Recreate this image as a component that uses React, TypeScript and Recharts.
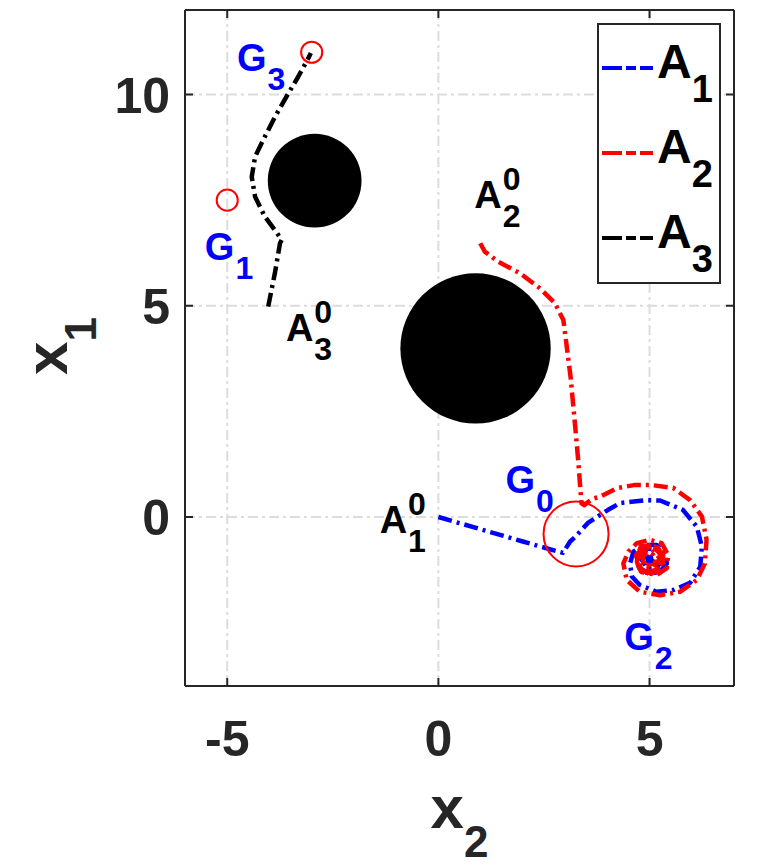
import { ComposedChart, Line, Scatter, XAxis, YAxis, CartesianGrid, Legend } from "recharts"

const FONT = "'Liberation Sans', Arial, Helvetica, sans-serif"
const AXIS = "#262626"
const DASH = "14 5 3 5"

const xTicks = [-5, 0, 5]
const yTicks = [0, 5, 10]

const seriesNames = ["A1", "A2", "A3"]
const seriesColors = ["#0000ff", "#ff0000", "#000000"]

// agent 1: from origin, kink near G0, then spiral into G2
const a1Path = [
  { x: 0, y: 0 }, { x: 1.0, y: -0.29 }, { x: 2.0, y: -0.58 }, { x: 2.95, y: -0.85 },
  { x: 3.12, y: -0.58 }, { x: 3.24, y: -0.47 }, { x: 3.54, y: -0.14 }, { x: 4.02, y: 0.17 },
  { x: 4.3, y: 0.33 }, { x: 4.93, y: 0.4 }, { x: 5.25, y: 0.39 }, { x: 5.79, y: 0.17 },
  { x: 6.12, y: -0.23 }, { x: 6.24, y: -0.7 }, { x: 6.2, y: -1.18 }, { x: 5.96, y: -1.56 },
  { x: 5.56, y: -1.73 }, { x: 5.17, y: -1.77 }, { x: 4.77, y: -1.61 }, { x: 4.58, y: -1.41 },
  { x: 4.54, y: -1.1 }, { x: 4.62, y: -0.82 }, { x: 4.85, y: -0.66 }, { x: 5.17, y: -0.66 },
  { x: 5.37, y: -0.86 }, { x: 5.41, y: -1.1 }, { x: 5.25, y: -1.29 }, { x: 5.0, y: -1.35 },
  { x: 4.75, y: -1.2 }, { x: 4.7, y: -0.95 }, { x: 4.88, y: -0.75 }, { x: 5.15, y: -0.75 },
  { x: 5.3, y: -0.98 }, { x: 5.18, y: -1.2 }, { x: 4.95, y: -1.22 }, { x: 4.82, y: -1.02 },
  { x: 4.95, y: -0.85 }, { x: 5.12, y: -0.92 }, { x: 5.08, y: -1.05 }, { x: 5.0, y: -1.0 },
]

// agent 2: around the big obstacle, down to G0, then loops around G2
const a2Path = [
  { x: 0.99, y: 6.48 }, { x: 1.1, y: 6.28 }, { x: 1.42, y: 6.04 }, { x: 1.93, y: 5.77 },
  { x: 2.41, y: 5.41 }, { x: 2.76, y: 5.06 }, { x: 2.96, y: 4.66 }, { x: 3.04, y: 4.03 },
  { x: 3.13, y: 3.32 }, { x: 3.24, y: 2.14 }, { x: 3.31, y: 1.35 }, { x: 3.37, y: 0.56 },
  { x: 3.39, y: 0.32 }, { x: 3.45, y: 0.28 }, { x: 3.64, y: 0.43 }, { x: 3.83, y: 0.48 },
  { x: 4.22, y: 0.68 }, { x: 4.66, y: 0.76 }, { x: 5.01, y: 0.76 }, { x: 5.56, y: 0.69 },
  { x: 5.96, y: 0.4 }, { x: 6.24, y: 0.01 }, { x: 6.35, y: -0.54 }, { x: 6.31, y: -1.1 },
  { x: 6.12, y: -1.49 }, { x: 5.72, y: -1.77 }, { x: 5.25, y: -1.85 }, { x: 4.77, y: -1.77 },
  { x: 4.46, y: -1.49 }, { x: 4.38, y: -1.1 }, { x: 4.5, y: -0.82 }, { x: 4.7, y: -0.62 },
  { x: 5.01, y: -0.54 }, { x: 5.29, y: -0.62 }, { x: 5.44, y: -0.9 }, { x: 5.41, y: -1.21 },
  { x: 5.17, y: -1.37 }, { x: 4.8, y: -1.3 }, { x: 4.66, y: -0.98 }, { x: 4.8, y: -0.7 },
  { x: 5.08, y: -0.66 }, { x: 5.32, y: -0.86 }, { x: 5.32, y: -1.16 }, { x: 5.05, y: -1.34 },
  { x: 4.74, y: -1.22 }, { x: 4.68, y: -0.9 }, { x: 4.9, y: -0.68 }, { x: 5.2, y: -0.72 },
  { x: 5.34, y: -1.0 }, { x: 5.15, y: -1.3 }, { x: 4.86, y: -1.32 }, { x: 4.7, y: -1.05 },
  { x: 4.82, y: -0.76 }, { x: 5.12, y: -0.7 }, { x: 5.3, y: -0.95 }, { x: 5.22, y: -1.24 },
  { x: 4.95, y: -1.3 }, { x: 4.76, y: -1.12 }, { x: 4.8, y: -0.84 }, { x: 5.06, y: -0.76 },
  { x: 5.24, y: -0.98 }, { x: 5.1, y: -1.2 }, { x: 4.86, y: -1.16 }, { x: 4.84, y: -0.9 },
  { x: 5.05, y: -0.84 }, { x: 5.16, y: -1.04 }, { x: 4.98, y: -1.14 }, { x: 4.9, y: -0.98 },
  { x: 5.02, y: -0.92 }, { x: 5.0, y: -1.0 },
]

// agent 3: up past the small obstacle to G3
const a3Path = [
  { x: -4.03, y: 4.98 }, { x: -3.87, y: 5.78 }, { x: -3.75, y: 6.48 }, { x: -3.71, y: 6.56 },
  { x: -3.82, y: 6.72 }, { x: -4.11, y: 7.11 }, { x: -4.34, y: 7.58 }, { x: -4.42, y: 8.05 },
  { x: -4.34, y: 8.53 }, { x: -4.15, y: 8.92 }, { x: -3.87, y: 9.47 }, { x: -3.55, y: 10.03 },
  { x: -3.32, y: 10.42 }, { x: -3.08, y: 10.86 }, { x: -3.02, y: 10.98 },
]

const paths = [a1Path, a2Path, a3Path]

const obstacles = [
  { x: -2.93, y: 7.96, r: 1.11 },
  { x: 0.88, y: 3.99, r: 1.78 },
]
const goalCircles = [
  { x: -5, y: 7.5, r: 0.25 },
  { x: -3, y: 11, r: 0.25 },
  { x: 3.26, y: -0.4, r: 0.77 },
]
const goalPoints = [{ x: 5, y: -1 }]

const annotations = [
  { label: "G", sub: "3", x: -4.77, y: 10.56 },
  { label: "G", sub: "1", x: -5.53, y: 6.08 },
  { label: "A", sub: "3", sup: "0", x: -3.61, y: 4.17 },
  { label: "A", sub: "2", sup: "0", x: 0.85, y: 7.31 },
  { label: "A", sub: "1", sup: "0", x: -1.39, y: -0.38 },
  { label: "G", sub: "0", x: 1.59, y: 0.57 },
  { label: "G", sub: "2", x: 4.4, y: -3.15 },
]

const W = 771
const H = 868
const margin = { top: 9, right: 36, bottom: 82, left: 85 }
const Y_AXIS_W = 100
const X_AXIS_H = 100
const PX = (W - margin.left - margin.right - Y_AXIS_W - 1) / 13 // pixels per data unit

function BottomTick({ x, y, payload }: any) {
  return (
    <g>
      <line x1={x} y1={y} x2={x} y2={y - 8} stroke={AXIS} strokeWidth={2} />
      <text x={x} y={y + 70} textAnchor="middle" fontFamily={FONT} fontWeight={700} fontSize={50} fill={AXIS}>
        {payload.value}
      </text>
    </g>
  )
}

function LeftTick({ x, y, payload }: any) {
  return (
    <g>
      <line x1={x} y1={y} x2={x + 8} y2={y} stroke={AXIS} strokeWidth={2} />
      <text x={x - 15} y={y + 18} textAnchor="end" fontFamily={FONT} fontWeight={700} fontSize={50} fill={AXIS}>
        {payload.value}
      </text>
    </g>
  )
}

function TopTick({ x, y }: any) {
  return <line x1={x} y1={y} x2={x} y2={y + 8} stroke={AXIS} strokeWidth={2} />
}

function RightTick({ x, y }: any) {
  return <line x1={x} y1={y} x2={x - 8} y2={y} stroke={AXIS} strokeWidth={2} />
}

function XTitle({ viewBox }: any) {
  const cx = viewBox.x + viewBox.width / 2
  return (
    <text x={cx} y={viewBox.y + 142} textAnchor="middle" fontFamily={FONT} fontWeight={700} fontSize={60} fill={AXIS}>
      x<tspan dy={29} fontSize={44}>2</tspan>
    </text>
  )
}

function YTitle({ viewBox }: any) {
  const cy = viewBox.y + viewBox.height / 2
  return (
    <text
      transform={`translate(67, ${cy - 2}) rotate(-90)`}
      textAnchor="middle"
      fontFamily={FONT}
      fontWeight={700}
      fontSize={60}
      fill={AXIS}
    >
      x<tspan dy={29} fontSize={44}>1</tspan>
    </text>
  )
}

function LegendBox({ payload }: any) {
  const items = (payload || []).filter((p: any) => seriesNames.includes(p.value))
  return (
    <svg width={124} height={261} style={{ display: "block" }}>
      <rect x={1} y={1} width={122} height={259} fill="#ffffff" stroke={AXIS} strokeWidth={2} />
      {items.map((entry: any, i: number) => {
        const cy = 45 + i * 85
        return (
          <g key={entry.value}>
            <line x1={5} x2={56} y1={cy} y2={cy} stroke={entry.color} strokeWidth={4} strokeDasharray="20 4 10 4" />
            <text x={60} y={cy + 10} fontFamily={FONT} fontWeight={700} fontSize={48} fill="#000000">
              {entry.value.slice(0, 1)}
              <tspan dy={24} fontSize={38}>{entry.value.slice(1)}</tspan>
            </text>
          </g>
        )
      })}
    </svg>
  )
}

function Annotation({ cx, cy, payload }: any) {
  const color = payload.label === "G" ? "#0000ff" : "#000000"
  const adv = (payload.label === "G" ? 0.778 : 0.722) * 38 + 1
  return (
    <g fontFamily={FONT} fontWeight={700} fill={color}>
      <text x={cx} y={cy} fontSize={38}>{payload.label}</text>
      {payload.sup && <text x={cx + adv} y={cy - 18} fontSize={32}>{payload.sup}</text>}
      <text x={cx + adv} y={cy + 19} fontSize={32}>{payload.sub}</text>
    </g>
  )
}

export default function App() {
  return (
    <div style={{ position: "absolute", left: 0, top: 0, width: W, height: H, background: "#ffffff" }}>
      <ComposedChart width={W} height={H} margin={margin}>
        <CartesianGrid stroke="#dcdcdc" strokeWidth={2} strokeDasharray="10 4 3 4" />
        <XAxis
          dataKey="x"
          type="number"
          domain={[-6, 7]}
          ticks={xTicks}
          allowDataOverflow
          height={X_AXIS_H}
          tickSize={0}
          tickMargin={0}
          tickLine={false}
          tick={BottomTick}
          axisLine={{ stroke: AXIS, strokeWidth: 2 }}
          label={XTitle}
        />
        <XAxis
          xAxisId="top"
          orientation="top"
          dataKey="x"
          type="number"
          domain={[-6, 7]}
          ticks={xTicks}
          allowDataOverflow
          height={1}
          tickSize={0}
          tickMargin={0}
          tickLine={false}
          tick={TopTick}
          axisLine={{ stroke: AXIS, strokeWidth: 2 }}
        />
        <YAxis
          type="number"
          domain={[-4, 12]}
          ticks={yTicks}
          allowDataOverflow
          width={Y_AXIS_W}
          tickSize={0}
          tickMargin={0}
          tickLine={false}
          tick={LeftTick}
          axisLine={{ stroke: AXIS, strokeWidth: 2 }}
          label={YTitle}
        />
        <YAxis
          yAxisId="right"
          orientation="right"
          type="number"
          domain={[-4, 12]}
          ticks={yTicks}
          allowDataOverflow
          width={1}
          tickSize={0}
          tickMargin={0}
          tickLine={false}
          tick={RightTick}
          axisLine={{ stroke: AXIS, strokeWidth: 2 }}
        />

        <Scatter
          data={obstacles}
          dataKey="y"
          legendType="none"
          isAnimationActive={false}
          shape={(p: any) => <circle cx={p.cx} cy={p.cy} r={p.payload.r * PX} fill="#000000" />}
        />

        {paths.map((path, i) => (
          <Line
            key={seriesNames[i]}
            data={path}
            dataKey="y"
            name={seriesNames[i]}
            type="linear"
            stroke={seriesColors[i]}
            strokeWidth={4.5}
            strokeDasharray={DASH}
            strokeLinejoin="round"
            dot={false}
            activeDot={false}
            isAnimationActive={false}
          />
        ))}

        <Scatter
          data={goalCircles}
          dataKey="y"
          legendType="none"
          isAnimationActive={false}
          shape={(p: any) => (
            <circle cx={p.cx} cy={p.cy} r={p.payload.r * PX} fill="none" stroke="#ff0000" strokeWidth={2} />
          )}
        />
        <Scatter
          data={goalPoints}
          dataKey="y"
          legendType="none"
          isAnimationActive={false}
          shape={(p: any) => <circle cx={p.cx} cy={p.cy} r={4} fill="#0000ff" />}
        />
        <Scatter
          data={annotations}
          dataKey="y"
          legendType="none"
          isAnimationActive={false}
          shape={Annotation}
        />

        <Legend
          layout="horizontal"
          verticalAlign="middle"
          align="center"
          wrapperStyle={{ left: 597, top: 23, width: 124, height: 261 }}
          content={LegendBox}
        />
      </ComposedChart>
    </div>
  )
}
